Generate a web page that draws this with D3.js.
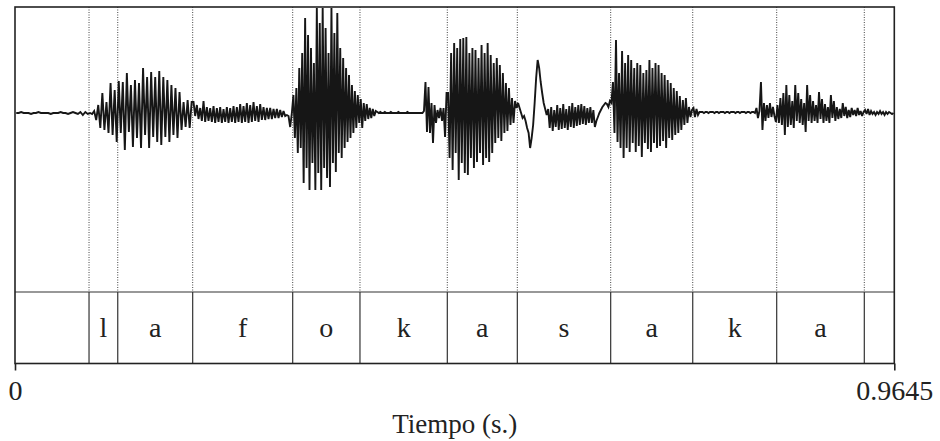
<!DOCTYPE html>
<html>
<head>
<meta charset="utf-8">
<script src="https://cdn.jsdelivr.net/npm/d3@7"></script>
<style>
  html, body { margin: 0; padding: 0; background: #fff; }
  svg { display: block; }
</style>
</head>
<body>
<svg id="chart" width="940" height="441"></svg>
<script>
// ---------------- DATA ----------------
const duration = 0.9645; // seconds
// interval boundaries (s)
const boundaries = [0.0812, 0.1127, 0.1949, 0.3046, 0.3784, 0.4742, 0.5510, 0.6534, 0.7434, 0.8355, 0.9316];
// interval labels (TextGrid tier)
const segmentLabels = ["", "l", "a", "f", "o", "k", "a", "s", "a", "k", "a", ""];
const tickValues = [0, 0.9645];
const tickLabels = ["0", "0.9645"];
const xAxisTitle = "Tiempo (s.)";

// waveform peak readings per interval (amplitude, arbitrary units, full scale = 105)
const waveSil1 = [0, 0, 1, 0, 0, 0, -1, 0, 0, 1, 0, 0, 0, 0, -1, 0, 0, 0, 1, 0, 0, -1, 0, 1, 0, -1, 1, -2, 1, -1];
const waveL = [0, -1, 2, -7, 8, -15, 20, -17, 11, -20, 30, -22, 23, -29];
const waveA1 = [32, -20, 31, -37, 40, -19, 28, -34, 33, -25, 30, -35, 45, -22, 36, -35, 41, -24, 36, -29, 42, -32, 36, -24, 33, -29, 28, -22, 25, -25, 21, -17, 11, -14, 13, -15, 11];
const waveF = [11, -3, 8, -6, 5, -8, 12, -9, 6, -8, 5, -9, 7, -10, 5, -9, 6, -10, 4, -9, 6, -10, 5, -9, 7, -10, 6, -9, 9, -10, 7, -9, 10, -10, 8, -9, 11, -8, 7, -9, 9, -7, 6, -7, 5, -6, 5, -6, 4, -5, 4, -5, 3, -4, 2, -3, -2, -3, -14, 0];
const waveO = [18, -25, 25, -40, 45, -35, 60, -70, 95, -55, 78, -77, 65, -50, 50, -77, 105, -60, 90, -77, 105, -55, 85, -65, 60, -74, 105, -50, 80, -59, 100, -40, 65, -45, 55, -35, 45, -29, 38, -25, 28, -20, 22, -15, 18, -10];
const waveK1 = [14, -15, 10, -8, 9, -6, 5, -5, 4, -3, 2,
  1, 0, 1, 0, 0, 1, 0, 0, 0, 1, 0, 0, 0, 0, 1, 0, 0, 0, 0, 0, 1, 0, 0, 0, 0, 0, 0, 0, 0, 0, 0,
  2, 31, -19, 26, -20, 10, -30, 8, -10, 3, -5, 5, -8, 5, -24, 20];
const waveA2 = [20, -45, 60, -57, 70, -40, 65, -67, 74, -50, 75, -60, 76, -62, 60, -45, 65, -55, 63, -49, 55, -40, 68, -52, 60, -45, 70, -49, 58, -40, 50, -30, 55, -25, 48, -28, 40, -20, 30, -18, 25, -12, 15, -10, 12, 5];
const waveS = [10, 5, 0, -5, -3, -8, -15, -20, -35, -25, -12, 10, 35, 53, 45, 31, 20, 10, 4, -2,
  4, -15, 6, -18, 3, -14, 8, -17, 5, -16, 9, -15, 4, -17, 7, -14, 10, -15, 6, -13, 8, -12, 9, -11, 7, -12, 5, -10, 6, -10, 3,
  -14, -8, -4, 0, 3, 6, 8, 10, 9, 6, 12];
const waveA3 = [10, 31, -20, 73, -29, 40, -35, 62, -45, 50, -35, 58, -39, 53, -30, 45, -39, 50, -33, 48, -44, 40, -30, 43, -36, 53, -39, 45, -30, 50, -35, 48, -33, 40, -28, 38, -35, 33, -25, 30, -27, 25, -22, 22, -20, 17, -17, 13, -12, 15, -10, 6, -4, 3];
const waveK2 = [5, -4, 4, -2, 1,
  1, 1, 0, 1, 1, 0, 1, 1, 1, 0, 1, 1, 0, 1, 1, 1, 0, 1, 1, 0, 1, 1, 1, 0, 1, 1, 0, 1, 1, 1, 0, 1, 1, 0, 1, 1, 0,
  5, -5, 2, 31, -17, 10, -8, 8, -5, 10, -4, 6, -3, -9];
const waveA4 = [8, -10, 15, -12, 20, -22, 28, -14, 18, -12, 12, -15, 28, -8, 20, -10, 14, -12, 10, -19, 28, -8, 18, -10, 12, -8, 8, -10, 21, -6, 14, -10, 9, -8, 6, -10, 18, -5, 12, -8, 6, -6, 4, -5, 10, -3, 6, -5, 3, -4, 5, -2, 3, -3, 5, -2, 2, -3, 1];
const waveSil2 = [3, -1, 4, -2, 2, -1, 1, -2, 1, -1, 2, -1, 1, -2, 1, -1, 1, 0, -1, 0];

const waveByInterval = [waveSil1, waveL, waveA1, waveF, waveO, waveK1, waveA2, waveS, waveA3, waveK2, waveA4, waveSil2];

// ---------------- LAYOUT ----------------
const L = 15, R = 894.3, TOP = 7, TIER_TOP = 292, BOTTOM = 363.5;
const WAVE_TOP = 8, WAVE_BOTTOM = 218;
const FONT = "'Liberation Serif', 'Times New Roman', serif";

const svg = d3.select("#chart");
const x = d3.scaleLinear().domain([0, duration]).range([L, R]);
const y = d3.scaleLinear().domain([-105, 105]).range([WAVE_BOTTOM, WAVE_TOP]);

// intervals
const edges = [0, ...boundaries, duration];
const intervals = segmentLabels.map((lab, i) => ({ label: lab, start: edges[i], end: edges[i + 1], values: waveByInterval[i] }));

// build waveform points
const wavePts = [];
intervals.forEach(iv => {
  const n = iv.values.length;
  iv.values.forEach((v, k) => {
    wavePts.push([iv.start + (k + 0.5) * (iv.end - iv.start) / n, v]);
  });
});

// dotted boundaries in waveform panel
svg.append("g").selectAll("line").data(boundaries).join("line")
  .attr("x1", d => x(d)).attr("x2", d => x(d))
  .attr("y1", TOP).attr("y2", TIER_TOP)
  .attr("stroke", "#444").attr("stroke-width", 1)
  .attr("stroke-dasharray", "1,1.5");

// waveform
svg.append("path")
  .datum(wavePts)
  .attr("fill", "none")
  .attr("stroke", "#161616")
  .attr("stroke-width", 1.9)
  .attr("stroke-linejoin", "miter")
  .attr("stroke-miterlimit", 3)
  .attr("d", d3.line().x(d => x(d[0])).y(d => y(d[1])));

// tier boundaries (solid)
svg.append("g").selectAll("line").data(boundaries).join("line")
  .attr("x1", d => x(d)).attr("x2", d => x(d))
  .attr("y1", TIER_TOP).attr("y2", BOTTOM)
  .attr("stroke", "#333").attr("stroke-width", 1.2);

// tier top line
svg.append("line")
  .attr("x1", L).attr("x2", R).attr("y1", TIER_TOP).attr("y2", TIER_TOP)
  .attr("stroke", "#333").attr("stroke-width", 1.2);

// frame
svg.append("rect")
  .attr("x", L).attr("y", TOP).attr("width", R - L).attr("height", BOTTOM - TOP)
  .attr("fill", "none").attr("stroke", "#222").attr("stroke-width", 1.6);

// labels
svg.append("g").selectAll("text").data(intervals).join("text")
  .attr("x", d => x((d.start + d.end) / 2))
  .attr("y", 337)
  .attr("text-anchor", "middle")
  .attr("font-family", FONT)
  .attr("font-size", 28)
  .attr("fill", "#222")
  .text(d => d.label);

// x axis
const axis = d3.axisBottom(x).tickValues(tickValues)
  .tickFormat((d, i) => tickLabels[i])
  .tickSize(7).tickPadding(9.5);
const ax = svg.append("g").attr("transform", `translate(0,${BOTTOM})`).call(axis);
ax.select(".domain").remove();
ax.selectAll(".tick line").attr("stroke", "#222").attr("stroke-width", 1.6);
ax.selectAll(".tick text").attr("font-family", FONT).attr("font-size", 28).attr("fill", "#222");

svg.append("text")
  .attr("x", (L + R) / 2).attr("y", 433)
  .attr("text-anchor", "middle")
  .attr("font-family", FONT).attr("font-size", 27).attr("fill", "#222")
  .text(xAxisTitle);
</script>
</body>
</html>
